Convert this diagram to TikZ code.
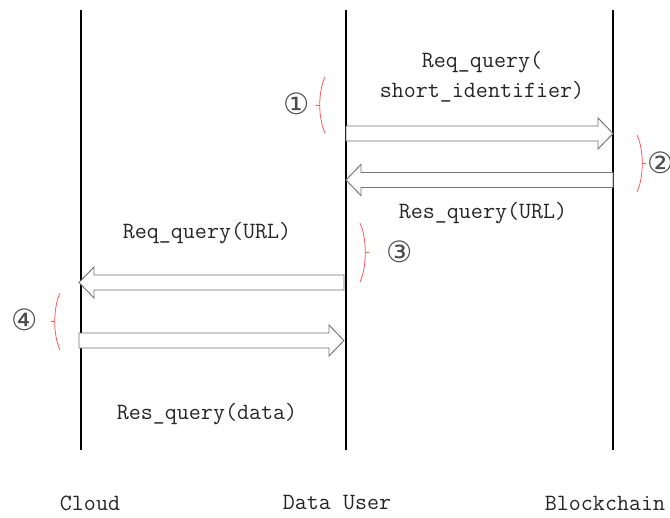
\documentclass[tikz,border=0pt]{standalone}
\usepackage{fontspec}
\usetikzlibrary{calc}
\newfontfamily\circfont{DejaVu Sans}

% hollow block arrow from coordinate #1 to coordinate #2 (same height)
\newcommand\blockarrow[2]{%
  \coordinate (hb) at ($(#2)!11.25pt!(#1)$);
  \path[msgarrow] ($(#1)+(0,-7.5)$) -- ($(hb)+(0,-7.5)$) -- ($(hb)+(0,-15.5)$)
    -- (#2) -- ($(hb)+(0,15.5)$) -- ($(hb)+(0,7.5)$) -- ($(#1)+(0,7.5)$) -- cycle;}

\begin{document}
\begin{tikzpicture}[x=0.75pt,y=-0.75pt,
  lifeline/.style={line width=2.2pt,black},
  msgarrow/.style={draw=black!55,fill=white,line width=0.7pt},
  stepbrace/.style={draw=red!65,line width=0.6pt},
  lbl/.style={font=\ttfamily\fontsize{17.5}{20}\selectfont,text=black!85,inner sep=0pt},
  stepnum/.style={font=\circfont\fontsize{22}{24}\selectfont,text=black!70,inner sep=0pt}]
\useasboundingbox (0,0) rectangle (670,517);

% lifelines
\coordinate (cT) at (81,10);  \coordinate (cB) at (81,450);
\coordinate (uT) at (346,10); \coordinate (uB) at (346,450);
\coordinate (bT) at (613,10); \coordinate (bB) at (613,450);
\draw[lifeline] (cT) -- (cB);
\draw[lifeline] (uT) -- (uB);
\draw[lifeline] (bT) -- (bB);

% participants
\node[lbl] (cloud) at (90,503) {Cloud};
\node[lbl] (user)  at (337,503) {Data User};
\node[lbl] (chain) at (605,503) {Blockchain};

% message anchors on the lifelines
\coordinate (u1) at (346,133.5); \coordinate (b1) at (613,133.5);
\coordinate (b2) at (613,180);   \coordinate (u2) at (346,180);
\coordinate (u3) at (344,282.5); \coordinate (c3) at (79,282.5);
\coordinate (c4) at (79,340.5);  \coordinate (u4) at (344,340.5);

\blockarrow{u1}{b1}
\blockarrow{b2}{u2}
\blockarrow{u3}{c3}
\blockarrow{c4}{u4}

% message texts
\node[lbl] (m1a) at (482,62) {Req\_query(};
\node[lbl] (m1b) at (482,92) {short\_identifier)};
\node[lbl] (m2)  at (483,213) {Res\_query(URL)};
\node[lbl] (m3)  at (207,233) {Req\_query(URL)};
\node[lbl] (m4)  at (207,414) {Res\_query(data)};

% step brackets
\draw[stepbrace] (325,77) .. controls (318,92) and (318,118) .. (325,133);
\draw[stepbrace] (319.7,105) -- (316,105);
\draw[stepbrace] (637,135) .. controls (644,150) and (644,177) .. (637,192);
\draw[stepbrace] (642.2,163.5) -- (646,163.5);
\draw[stepbrace] (360,223) .. controls (367,238) and (367,267) .. (360,282);
\draw[stepbrace] (365.2,252.5) -- (369,252.5);
\draw[stepbrace] (60,293) .. controls (53,308) and (53,335) .. (60,350);
\draw[stepbrace] (54.8,321.5) -- (51,321.5);

% step numbers
\node[stepnum] (s1) at (297,104) {①};
\node[stepnum] (s2) at (661,163) {②};
\node[stepnum] (s3) at (400,252) {③};
\node[stepnum] (s4) at (25,320) {④};
\end{tikzpicture}
\end{document}
